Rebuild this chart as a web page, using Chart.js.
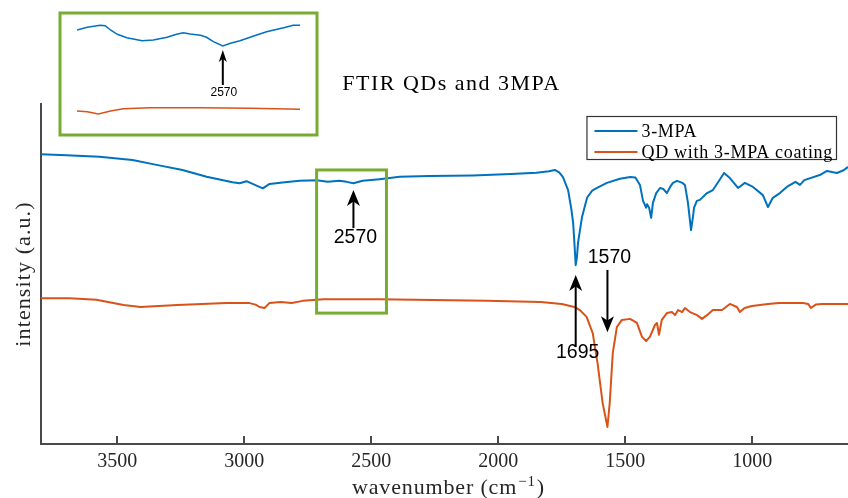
<!DOCTYPE html>
<html>
<head>
<meta charset="utf-8">
<script src="https://cdn.jsdelivr.net/npm/chart.js@4/dist/chart.umd.min.js"></script>
<style>
  html, body { margin: 0; padding: 0; background: #fff; overflow: hidden; }
  #wrap { position: relative; width: 848px; height: 498px; }
  #main { position: absolute; left: 0; top: 0; }
  #inset { position: absolute; left: 58px; top: 11px; }
</style>
</head>
<body>
<div id="wrap">
  <canvas id="main" width="848" height="498"></canvas>
  <canvas id="inset" width="261" height="126"></canvas>
</div>
<script>
// ---- FTIR spectra (wavenumber in cm^-1, intensity in arbitrary units) ----
const blueWavenumber = [3800, 3700, 3570, 3440, 3345, 3243, 3148, 3046, 3018, 2991, 2967, 2927, 2900, 2849, 2782, 2715, 2671, 2624, 2597, 2570, 2534, 2467, 2388, 2270, 2100, 1950, 1850, 1800, 1777, 1760, 1745, 1725, 1712, 1705, 1700, 1695, 1690, 1686, 1678, 1670, 1650, 1630, 1611, 1572, 1521, 1480, 1460, 1442, 1430, 1426, 1418, 1414, 1406, 1398, 1391, 1378, 1363, 1350, 1336, 1320, 1312, 1296, 1275, 1265, 1253, 1241, 1233, 1229, 1218, 1206, 1178, 1155, 1130, 1111, 1088, 1056, 1029, 997, 958, 938, 919, 891, 864, 830, 812, 795, 734, 706, 667, 640, 623];
const blueIntensity  = [85.2, 84.9, 84.5, 83.5, 82.1, 80.6, 78.6, 77.0, 76.7, 77.3, 76.5, 75.2, 76.5, 76.9, 77.4, 77.6, 77.1, 77.4, 77.1, 76.7, 77.4, 77.9, 78.6, 78.8, 79.0, 79.4, 79.8, 80.2, 80.6, 79.9, 78.5, 74.7, 69.0, 65.0, 59.0, 52.6, 55.0, 59.1, 63.0, 66.8, 72.5, 74.5, 75.3, 76.8, 78.0, 78.5, 78.4, 76.2, 71.5, 70.9, 69.5, 70.5, 69.5, 66.5, 70.9, 73.8, 75.3, 75.0, 73.8, 76.0, 76.8, 77.4, 76.8, 76.2, 70.9, 62.9, 67.0, 69.5, 71.5, 71.8, 73.8, 74.7, 77.5, 79.7, 78.2, 75.3, 76.8, 75.6, 73.2, 69.7, 72.4, 73.8, 75.6, 77.1, 76.2, 77.6, 79.1, 80.3, 79.7, 80.5, 81.5];

const orangeWavenumber = [3800, 3688, 3582, 3475, 3408, 3263, 3070, 2983, 2955, 2940, 2920, 2900, 2857, 2813, 2770, 2687, 2470, 2046, 1833, 1750, 1700, 1679, 1652, 1628, 1609, 1589, 1570, 1561, 1549, 1533, 1513, 1481, 1454, 1434, 1418, 1403, 1383, 1375, 1367, 1356, 1336, 1316, 1304, 1292, 1276, 1265, 1245, 1217, 1198, 1178, 1155, 1119, 1088, 1060, 1049, 1030, 1001, 938, 895, 800, 780, 769, 750, 726, 623];
const orangeIntensity  = [42.9, 42.9, 42.4, 40.9, 40.3, 40.9, 41.5, 41.5, 41.0, 40.3, 40.0, 41.5, 41.8, 41.5, 42.1, 42.6, 42.6, 42.1, 41.8, 41.2, 40.3, 39.4, 37.4, 32.6, 23.8, 12.1, 5.0, 12.1, 26.8, 34.4, 36.5, 36.8, 35.6, 31.5, 30.3, 31.5, 35.0, 35.6, 32.1, 36.5, 38.5, 38.8, 37.9, 39.4, 38.8, 40.0, 38.8, 37.9, 36.8, 37.9, 39.4, 39.4, 41.2, 40.3, 38.8, 40.0, 40.6, 41.2, 41.5, 41.5, 41.2, 40.0, 41.0, 41.2, 41.2];

// Close-up of the S-H stretch region (own intensity units)
const insetWavenumber = [2740, 2728, 2713, 2707, 2701, 2693, 2682, 2664, 2651, 2635, 2624, 2616, 2608, 2596, 2589, 2581, 2570, 2561, 2550, 2534, 2519, 2499, 2488, 2480];
const insetBlue       = [90.0, 92.7, 94.7, 94.3, 90.0, 85.7, 82.3, 79.3, 80.0, 82.7, 85.7, 87.3, 86.0, 84.7, 82.7, 78.3, 74.0, 76.7, 79.3, 84.0, 88.3, 92.3, 94.7, 94.7];
const insetOrangeWavenumber = [2740, 2728, 2715, 2701, 2686, 2655, 2596, 2538, 2480];
const insetOrange           = [9.0, 8.3, 6.0, 9.0, 11.3, 12.3, 12.3, 11.7, 10.7];

const seriesLabels = ['3-MPA', 'QD with 3-MPA coating'];
const xTickValues = [3500, 3000, 2500, 2000, 1500, 1000];

// Peak annotations: wavenumber, arrow tail, arrow tip, label position (intensity units)
const peakMarks = [
  { text: '2570', x: 2570, from: 63.5, to: 74.7, labelY: 60.6 },
  { text: '1695', x: 1695, from: 28.5, to: 49.7, labelY: 26.8 },
  { text: '1570', x: 1570, from: 51.2, to: 32.9, labelY: 54.7 }
];
// Region shown enlarged in the inset
const zoomRegion = { from: 2715, to: 2440, top: 80.6, bottom: 38.5 };

const BLUE = '#0072BD', ORANGE = '#D95319', GREEN = '#77AC30', AXIS = '#4a4a4a', INK = '#262626';
const SERIF = '"Liberation Serif", "Times New Roman", serif';
const SANS = '"Liberation Sans", Arial, sans-serif';

const pts = (xs, ys) => xs.map((x, i) => ({ x, y: ys[i] }));

function drawArrow(ctx, x, yTail, yTip, hl, hw) {
  const dir = yTail > yTip ? 1 : -1;
  ctx.save();
  ctx.strokeStyle = '#000';
  ctx.fillStyle = '#000';
  ctx.lineWidth = 2;
  ctx.beginPath();
  ctx.moveTo(x, yTail);
  ctx.lineTo(x, yTip + dir * hl * 0.6);
  ctx.stroke();
  ctx.beginPath();
  ctx.moveTo(x, yTip);
  ctx.lineTo(x - hw, yTip + dir * hl);
  ctx.lineTo(x, yTip + dir * hl * 0.72);
  ctx.lineTo(x + hw, yTip + dir * hl);
  ctx.closePath();
  ctx.fill();
  ctx.restore();
}

// inward tick marks on the wavenumber axis
const innerTicks = {
  id: 'innerTicks',
  afterDatasetsDraw(chart) {
    const { ctx, chartArea: ca, scales: { x } } = chart;
    ctx.save();
    ctx.fillStyle = AXIS;
    xTickValues.forEach(v => {
      const px = Math.round(x.getPixelForValue(v));
      ctx.fillRect(px - 1, ca.bottom - 8, 2, 8);
    });
    ctx.restore();
  }
};

const decorations = {
  id: 'decorations',
  afterDraw(chart) {
    const { ctx, chartArea: ca, scales: { x, y } } = chart;
    ctx.save();

    // zoom region box
    ctx.strokeStyle = GREEN;
    ctx.lineWidth = 3;
    const bx0 = x.getPixelForValue(zoomRegion.from), bx1 = x.getPixelForValue(zoomRegion.to);
    const by0 = y.getPixelForValue(zoomRegion.top), by1 = y.getPixelForValue(zoomRegion.bottom);
    ctx.strokeRect(bx0, by0, bx1 - bx0, by1 - by0);

    // peak arrows and labels
    peakMarks.forEach(m => {
      const px = x.getPixelForValue(m.x);
      drawArrow(ctx, px, y.getPixelForValue(m.from), y.getPixelForValue(m.to), 16, 6.5);
      ctx.fillStyle = '#000';
      ctx.font = '19.5px ' + SANS;
      ctx.textAlign = 'center';
      ctx.textBaseline = 'middle';
      ctx.fillText(m.text, px + 2, y.getPixelForValue(m.labelY));
    });

    // title
    ctx.fillStyle = '#000';
    ctx.font = '22px ' + SERIF;
    ctx.letterSpacing = '1.5px';
    ctx.textAlign = 'center';
    ctx.textBaseline = 'alphabetic';
    ctx.fillText('FTIR QDs and 3MPA', (ca.left + ca.right) / 2 + 7, 90);

    // y axis title
    ctx.save();
    ctx.letterSpacing = '1.1px';
    ctx.translate(29.5, (ca.top + ca.bottom) / 2);
    ctx.rotate(-Math.PI / 2);
    ctx.fillStyle = INK;
    ctx.fillText('intensity (a.u.)', 0, 0);
    ctx.restore();

    // x axis title with superscript
    ctx.letterSpacing = '0.85px';
    ctx.fillStyle = INK;
    const partA = 'wavenumber (cm', partC = ')';
    ctx.font = '22px ' + SERIF;
    const wA = ctx.measureText(partA).width, wC = ctx.measureText(partC).width;
    ctx.font = '15px ' + SERIF;
    const wB = ctx.measureText('\u22121').width;
    const total = wA + wB + wC + 2;
    let cx = (ca.left + ca.right) / 2 + 4 - total / 2;
    const base = 494;
    ctx.textAlign = 'left';
    ctx.font = '22px ' + SERIF;
    ctx.fillText(partA, cx, base);
    cx += wA + 1;
    ctx.font = '15px ' + SERIF;
    ctx.fillText('\u22121', cx, base - 8);
    cx += wB + 1;
    ctx.font = '22px ' + SERIF;
    ctx.fillText(partC, cx, base);

    // legend box
    ctx.letterSpacing = '0.7px';
    ctx.font = '18px ' + SERIF;
    const labels = chart.data.datasets.map(d => d.label);
    const textW = Math.max(...labels.map(l => ctx.measureText(l).width));
    const lineLen = 43, padL = 8, gap = 4, padR = 3, rowH = 21;
    const boxW = padL + lineLen + gap + textW + padR;
    const boxH = 43;
    const bxR = ca.right - 12, byT = ca.top + 12;
    const bxL = bxR - boxW;
    ctx.fillStyle = '#fff';
    ctx.fillRect(bxL, byT, boxW, boxH);
    ctx.strokeStyle = '#333';
    ctx.lineWidth = 1.2;
    ctx.strokeRect(bxL + 0.5, byT + 0.5, boxW, boxH);
    chart.data.datasets.forEach((d, i) => {
      const ry = byT + 15 + i * rowH;
      ctx.strokeStyle = d.borderColor;
      ctx.lineWidth = 2;
      ctx.beginPath();
      ctx.moveTo(bxL + padL, ry);
      ctx.lineTo(bxL + padL + lineLen, ry);
      ctx.stroke();
      ctx.fillStyle = '#000';
      ctx.textAlign = 'left';
      ctx.textBaseline = 'middle';
      ctx.fillText(d.label, bxL + padL + lineLen + gap, ry + 1);
    });

    ctx.restore();
  }
};

new Chart(document.getElementById('main'), {
  type: 'line',
  data: {
    datasets: [
      { label: seriesLabels[0], data: pts(blueWavenumber, blueIntensity), borderColor: BLUE, borderWidth: 2, pointRadius: 0, borderJoinStyle: 'round', fill: false },
      { label: seriesLabels[1], data: pts(orangeWavenumber, orangeIntensity), borderColor: ORANGE, borderWidth: 2, pointRadius: 0, borderJoinStyle: 'round', fill: false }
    ]
  },
  options: {
    responsive: false,
    animation: false,
    layout: { padding: { top: 104, left: 0, right: 0, bottom: 0 } },
    plugins: { legend: { display: false }, tooltip: { enabled: false }, title: { display: false } },
    scales: {
      x: {
        type: 'linear', reverse: true, min: 623, max: 3800,
        afterBuildTicks(s) { s.ticks = xTickValues.map(value => ({ value })); },
        afterFit(s) { s.height = 54; },
        ticks: { font: { family: SERIF, size: 20 }, color: INK, padding: 6, maxRotation: 0, autoSkip: false, callback: v => String(v) },
        grid: { display: false, drawTicks: false },
        border: { display: true, color: AXIS, width: 2 }
      },
      y: {
        min: 0, max: 100,
        afterFit(s) { s.width = 41; },
        ticks: { display: false },
        grid: { display: false, drawTicks: false },
        border: { display: true, color: AXIS, width: 2 }
      }
    }
  },
  plugins: [innerTicks, decorations]
});

const insetDecor = {
  id: 'insetDecor',
  afterDraw(chart) {
    const { ctx, scales: { x, y } } = chart;
    ctx.save();
    ctx.strokeStyle = GREEN;
    ctx.lineWidth = 3;
    ctx.strokeRect(2, 2, chart.width - 4, chart.height - 4);
    const px = x.getPixelForValue(2570);
    drawArrow(ctx, px, y.getPixelForValue(35), y.getPixelForValue(70), 12, 4);
    ctx.fillStyle = '#000';
    ctx.font = '12px ' + SANS;
    ctx.textAlign = 'center';
    ctx.textBaseline = 'middle';
    ctx.fillText('2570', px + 1, y.getPixelForValue(27));
    ctx.restore();
  }
};

new Chart(document.getElementById('inset'), {
  type: 'line',
  data: {
    datasets: [
      { data: pts(insetWavenumber, insetBlue), borderColor: BLUE, borderWidth: 1.5, pointRadius: 0, fill: false },
      { data: pts(insetOrangeWavenumber, insetOrange), borderColor: ORANGE, borderWidth: 1.5, pointRadius: 0, fill: false }
    ]
  },
  options: {
    responsive: false,
    animation: false,
    layout: { padding: { left: 19, right: 19, top: 9, bottom: 17 } },
    plugins: { legend: { display: false }, tooltip: { enabled: false } },
    scales: {
      x: { type: 'linear', reverse: true, min: 2480, max: 2740, display: false },
      y: { min: 0, max: 100, display: false }
    }
  },
  plugins: [insetDecor]
});
</script>
</body>
</html>
